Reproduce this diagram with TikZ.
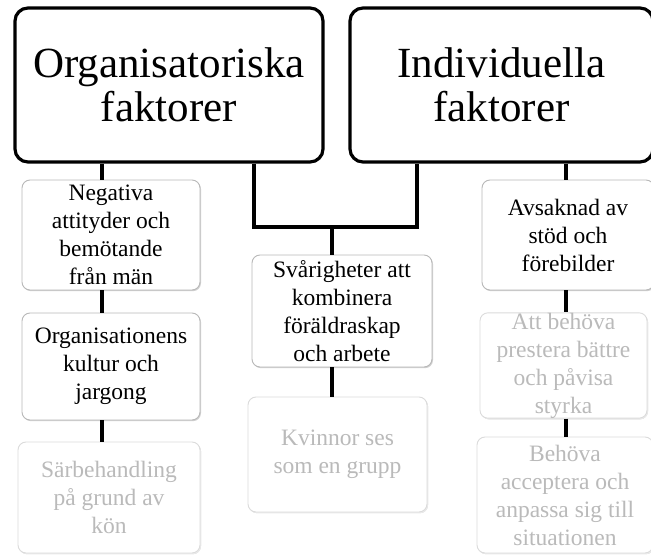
\documentclass[tikz,border=0pt]{standalone}
\usepackage{fontspec}
\IfFontExistsTF{LiberationSerif-Regular.ttf}
  {\newfontfamily\tnr{LiberationSerif-Regular.ttf}}
  {\newfontfamily\tnr{Latin Modern Roman}}
\usetikzlibrary{shadows}
\begin{document}
\begin{tikzpicture}[x=1pt,y=-1pt,
  bigbox/.style={draw=black, line width=3.2pt, rounded corners=13pt, fill=white,
    align=center, inner sep=0pt, font=\tnr\fontsize{43}{44}\selectfont},
  smallbox/.style={draw=black!28, line width=0.9pt, rounded corners=8pt, fill=white,
    align=center, inner sep=0pt, font=\tnr\fontsize{23.5}{28}\selectfont,
    drop shadow={shadow xshift=1pt, shadow yshift=-1.2pt, fill=black!18, opacity=1}},
  fadedbox/.style={smallbox, draw=black!14, text=black!27,
    drop shadow={shadow xshift=1pt, shadow yshift=-1.2pt, fill=black!8, opacity=1}},
  conn/.style={draw=black, line width=4.6pt}]
\useasboundingbox (0,0) rectangle (651,556);
\clip (0,0) rectangle (651,556);
% column coordinates
\coordinate (colA) at (102,0);
\coordinate (colL) at (254,0);
\coordinate (colM) at (332,0);
\coordinate (colR) at (417,0);
\coordinate (colZ) at (566,0);
\coordinate (brk) at (0,227);
\node[bigbox, minimum width=308pt, minimum height=154pt] (L) at (169,85) {Organisatoriska\\faktorer};
\node[bigbox, minimum width=303pt, minimum height=154pt] (R) at (501.5,85) {Individuella\\faktorer};

\node[smallbox, minimum width=178pt, minimum height=110pt] (n1) at (111,235) {Negativa\\attityder och\\bemötande\\från män};
\node[smallbox, minimum width=178pt, minimum height=107pt] (n2) at (111,366.5) {Organisationens\\kultur och\\jargong};
\node[fadedbox, minimum width=182pt, minimum height=111pt] (n3) at (109,497.5) {Särbehandling\\på grund av\\kön};

\node[smallbox, minimum width=180pt, minimum height=112pt] (c1) at (342,311) {Svårigheter att\\kombinera\\föräldraskap\\och arbete};
\node[fadedbox, minimum width=179pt, minimum height=115pt] (c2) at (337.5,454.5) {Kvinnor ses\\som en grupp};

\node[smallbox, minimum width=172pt, minimum height=110pt] (r1) at (568,235) {Avsaknad av\\stöd och\\förebilder};
\node[fadedbox, minimum width=167pt, minimum height=105pt] (r2) at (563.5,365.5) {Att behöva\\prestera bättre\\och påvisa\\styrka};
\node[fadedbox, minimum width=176pt, minimum height=116pt] (r3) at (565,495) {Behöva\\acceptera och\\anpassa sig till\\situationen};

% connectors
\draw[conn] (L.south -| colA) -- (n1.north -| colA);
\draw[conn] (n1.south -| colA) -- (n2.north -| colA);
\draw[conn] (n2.south -| colA) -- (n3.north -| colA);
\draw[conn] (L.south -| colL) -- (brk -| colL) -- (brk -| colR) -- (R.south -| colR);
\draw[conn] (brk -| colM) -- (c1.north -| colM);
\draw[conn] (c1.south -| colM) -- (c2.north -| colM);
\draw[conn] (R.south -| colZ) -- (r1.north -| colZ);
\draw[conn] (r1.south -| colZ) -- (r2.north -| colZ);
\draw[conn] (r2.south -| colZ) -- (r3.north -| colZ);
\end{tikzpicture}
\end{document}
